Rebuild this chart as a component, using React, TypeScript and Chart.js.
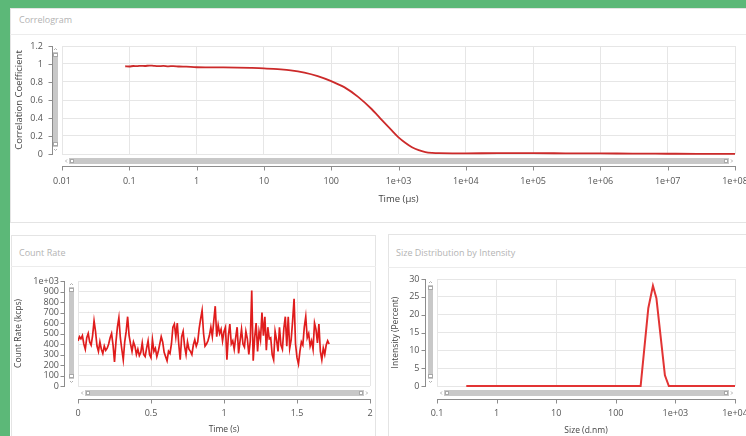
import React, { useEffect, useRef } from 'react';
import { Chart, registerables } from 'chart.js';

Chart.register(...registerables);

const FONT = "'Open Sans', 'Noto Sans', 'DejaVu Sans', sans-serif";

// ---------- Correlogram ----------
const corrTimes = [
  0.087, 0.1, 0.115, 0.13, 0.15, 0.17, 0.2, 0.23, 0.27, 0.32,
  0.38, 0.45, 0.55, 0.7, 1, 1.5, 2.5, 4, 6.3, 10,
  16, 25, 40, 63, 100, 158, 251, 398, 501, 631,
  794, 1000, 1259, 1585, 1995, 2512, 3162, 3981, 6310, 1e4,
  3e4, 1e5, 3e5, 1e6, 3e6, 1e7, 3e7, 1e8,
];
const corrValues = [
  0.975, 0.972, 0.978, 0.976, 0.98, 0.978, 0.983, 0.979, 0.976, 0.979,
  0.974, 0.977, 0.972, 0.97, 0.964, 0.963, 0.962, 0.96, 0.957, 0.952,
  0.942, 0.93, 0.905, 0.866, 0.81, 0.74, 0.635, 0.5, 0.42, 0.34,
  0.262, 0.185, 0.125, 0.075, 0.042, 0.022, 0.013, 0.009, 0.008, 0.008,
  0.009, 0.009, 0.008, 0.007, 0.004, 0.003, 0.002, 0.002,
];
const corrXTicks = [0.01, 0.1, 1, 10, 100, 1e3, 1e4, 1e5, 1e6, 1e7, 1e8];
const corrXLabels = ['0.01', '0.1', '1', '10', '100', '1e+03', '1e+04', '1e+05', '1e+06', '1e+07', '1e+08'];
const corrYTicks = [0, 0.2, 0.4, 0.6, 0.8, 1, 1.2];
const corrYLabels = ['0', '0.2', '0.4', '0.6', '0.8', '1', '1.2'];

// ---------- Count Rate ----------
const countStep = 0.01; // s between samples
const countValues = [
  430, 470, 450, 480, 400, 350, 460, 500, 420, 390,
  480, 620, 520, 380, 330, 420, 350, 310, 380, 340,
  360, 400, 460, 500, 390, 230, 420, 560, 650, 460,
  350, 250, 420, 520, 660, 480, 400, 330, 420, 380,
  300, 350, 290, 320, 410, 300, 280, 360, 430, 300,
  270, 440, 330, 360, 280, 330, 400, 470, 420, 320,
  280, 240, 330, 310, 400, 560, 590, 470, 600, 400,
  250, 470, 520, 380, 300, 420, 350, 330, 300, 390,
  440, 380, 420, 550, 640, 720, 500, 380, 400, 430,
  480, 560, 470, 620, 760, 470, 580, 500, 540, 430,
  520, 560, 250, 480, 590, 400, 430, 350, 460, 560,
  310, 430, 540, 400, 370, 520, 450, 300, 430, 910,
  240, 460, 600, 330, 520, 440, 700, 480, 660, 340,
  560, 450, 460, 300, 250, 520, 440, 330, 560, 390,
  350, 550, 660, 380, 660, 360, 440, 620, 830, 400,
  270, 210, 330, 420, 390, 560, 660, 460, 500, 380,
  430, 350, 600, 540, 410, 590, 330, 250, 360, 300,
  390, 430, 400,
];
const countXTicks = [0, 0.5, 1, 1.5, 2];
const countXLabels = ['0', '0.5', '1', '1.5', '2'];
const countYTicks = [0, 100, 200, 300, 400, 500, 600, 700, 800, 900, 1000];
const countYLabels = ['0', '100', '200', '300', '400', '500', '600', '700', '800', '900', '1e+03'];

// ---------- Size Distribution ----------
const sizes = [0.31, 1, 10, 100, 261, 351, 420, 480, 667, 776, 1000, 10000];
const intensities = [0, 0, 0, 0, 0, 21.8, 28.1, 24.6, 3.0, 0, 0, 0];
const sizeXTicks = [0.1, 1, 10, 100, 1000, 10000];
const sizeXLabels = ['0.1', '1', '10', '100', '1e+03', '1e+04'];
const sizeYTicks = [0, 5, 10, 15, 20, 25, 30];
const sizeYLabels = ['0', '5', '10', '15', '20', '25', '30'];

type AxisOpts = {
  axis: 'x' | 'y';
  type: 'linear' | 'logarithmic';
  min: number;
  max: number;
  values: number[];
  labels: string[];
  title: string;
  titleSize: number;
  titlePad: number;
  pad: number;
  size: number;
};

function makeScale(o: AxisOpts) {
  return {
    type: o.type,
    min: o.min,
    max: o.max,
    afterBuildTicks: (s: any) => {
      s.ticks = o.values.map((v) => ({ value: v }));
    },
    afterFit: (s: any) => {
      if (o.axis === 'x') s.height = o.size;
      else s.width = o.size;
    },
    grid: {
      color: '#e6e6e6',
      lineWidth: 1,
      drawTicks: true,
      tickLength: o.pad,
      tickColor: 'rgba(0,0,0,0)',
    },
    border: { display: false },
    ticks: {
      autoSkip: false,
      maxRotation: 0,
      minRotation: 0,
      padding: 0,
      color: '#555555',
      font: { family: FONT, size: 9 },
      callback: (_v: any, i: number) => o.labels[i],
    },
    title: {
      display: true,
      text: o.title,
      color: '#444444',
      font: { family: FONT, size: o.titleSize },
      padding: o.axis === 'x' ? { top: 0, bottom: o.titlePad } : { top: o.titlePad, bottom: 0 },
    },
  };
}

function decoPlugin(yGap: number, xGap: number) {
  return {
    id: 'deco',
    afterDraw(chart: any) {
      const { ctx, chartArea: a } = chart;
      const xs = chart.scales.x;
      const ys = chart.scales.y;
      ctx.save();
      // axis lines + tick marks
      ctx.strokeStyle = '#8c8c8c';
      ctx.lineWidth = 1;
      ctx.beginPath();
      const ax = Math.round(a.left - yGap) + 0.5;
      ctx.moveTo(ax, Math.round(a.top));
      ctx.lineTo(ax, Math.round(a.bottom) + 1);
      ys.ticks.forEach((_t: any, i: number) => {
        const y = Math.round(ys.getPixelForTick(i)) + 0.5;
        ctx.moveTo(ax - 4, y);
        ctx.lineTo(ax, y);
      });
      const ay = Math.round(a.bottom + xGap) + 0.5;
      ctx.moveTo(Math.round(a.left), ay);
      ctx.lineTo(Math.round(a.right) + 1, ay);
      xs.ticks.forEach((_t: any, i: number) => {
        const x = Math.round(xs.getPixelForTick(i)) + 0.5;
        ctx.moveTo(x, ay);
        ctx.lineTo(x, ay + 4);
      });
      ctx.stroke();

      // vertical scrollbar
      const vx0 = Math.round(a.left - 9.5);
      const vw = 5;
      const vy0 = Math.round(a.top + 6);
      const vy1 = Math.round(a.bottom - 7);
      ctx.fillStyle = '#c8c8c8';
      ctx.fillRect(vx0, vy0, vw, vy1 - vy0);
      ctx.fillStyle = '#ffffff';
      ctx.strokeStyle = '#a8a8a8';
      ctx.fillRect(vx0 + 0.5, vy0 + 1, 4, 4);
      ctx.strokeRect(vx0 + 0.5, vy0 + 1.5, 4, 3);
      ctx.fillRect(vx0 + 0.5, vy1 - 5, 4, 4);
      ctx.strokeRect(vx0 + 0.5, vy1 - 4.5, 4, 3);
      ctx.strokeStyle = '#b0b0b0';
      ctx.beginPath();
      ctx.moveTo(vx0 + 1, vy0 - 2);
      ctx.lineTo(vx0 + 2.5, vy0 - 3.5);
      ctx.lineTo(vx0 + 4, vy0 - 2);
      ctx.moveTo(vx0 + 1, vy1 + 2);
      ctx.lineTo(vx0 + 2.5, vy1 + 3.5);
      ctx.lineTo(vx0 + 4, vy1 + 2);
      ctx.stroke();

      // horizontal scrollbar
      const hy0 = Math.round(a.bottom + 3.5);
      const hh = 6;
      const hx0 = Math.round(a.left + 7);
      const hx1 = Math.round(a.right - 6);
      ctx.fillStyle = '#c8c8c8';
      ctx.fillRect(hx0, hy0, hx1 - hx0, hh);
      ctx.fillStyle = '#ffffff';
      ctx.strokeStyle = '#a8a8a8';
      ctx.fillRect(hx0 + 1, hy0 + 1, 4, 4);
      ctx.strokeRect(hx0 + 1.5, hy0 + 1.5, 3, 3);
      ctx.fillRect(hx1 - 5, hy0 + 1, 4, 4);
      ctx.strokeRect(hx1 - 4.5, hy0 + 1.5, 3, 3);
      ctx.strokeStyle = '#b0b0b0';
      ctx.beginPath();
      ctx.moveTo(hx0 - 2, hy0 + 1.5);
      ctx.lineTo(hx0 - 3.5, hy0 + 3);
      ctx.lineTo(hx0 - 2, hy0 + 4.5);
      ctx.moveTo(hx1 + 2, hy0 + 1.5);
      ctx.lineTo(hx1 + 3.5, hy0 + 3);
      ctx.lineTo(hx1 + 2, hy0 + 4.5);
      ctx.stroke();
      ctx.restore();
    },
  };
}

type PlotProps = {
  left: number;
  top: number;
  width: number;
  height: number;
  build: () => any;
};

function Plot({ left, top, width, height, build }: PlotProps) {
  const ref = useRef<HTMLCanvasElement>(null);
  useEffect(() => {
    if (!ref.current) return;
    const chart = new Chart(ref.current, build());
    return () => chart.destroy();
  }, []);
  return (
    <canvas
      ref={ref}
      width={width}
      height={height}
      style={{ position: 'absolute', left, top, width, height, display: 'block' }}
    />
  );
}

function baseOptions(padding: any, x: any, y: any) {
  return {
    responsive: false,
    animation: false,
    events: [],
    layout: { padding },
    plugins: { legend: { display: false }, tooltip: { enabled: false }, title: { display: false } },
    elements: { point: { radius: 0 } },
    scales: { x, y },
  };
}

const buildCorr = () => ({
  type: 'line',
  data: {
    datasets: [
      {
        data: corrTimes.map((t, i) => ({ x: t, y: corrValues[i] })),
        borderColor: '#cc2a2a',
        borderWidth: 1.8,
        pointRadius: 0,
        cubicInterpolationMode: 'monotone',
        fill: false,
        clip: 2,
      },
    ],
  },
  options: baseOptions(
    { left: 0, top: 10, right: 45, bottom: 0 },
    makeScale({ axis: 'x', type: 'logarithmic', min: 0.01, max: 1e8, values: corrXTicks, labels: corrXLabels, title: 'Time (µs)', titleSize: 9.5, titlePad: 11, pad: 22, size: 62 }),
    makeScale({ axis: 'y', type: 'linear', min: 0, max: 1.2, values: corrYTicks, labels: corrYLabels, title: 'Correlation Coefficient', titleSize: 9.5, titlePad: 4, pad: 19, size: 52 })
  ),
  plugins: [decoPlugin(10, 12)],
});

const buildCount = () => ({
  type: 'line',
  data: {
    datasets: [
      {
        data: countValues.map((v, i) => ({ x: i * countStep, y: v })),
        borderColor: '#e01c1c',
        borderWidth: 1.7,
        pointRadius: 0,
        tension: 0,
        fill: false,
      },
    ],
  },
  options: baseOptions(
    { left: 0, top: 13, right: 10, bottom: 0 },
    makeScale({ axis: 'x', type: 'linear', min: 0, max: 2, values: countXTicks, labels: countXLabels, title: 'Time (s)', titleSize: 8.5, titlePad: 1, pad: 22, size: 50 }),
    makeScale({ axis: 'y', type: 'linear', min: 0, max: 1000, values: countYTicks, labels: countYLabels, title: 'Count Rate (kcps)', titleSize: 8.5, titlePad: 3, pad: 19, size: 68 })
  ),
  plugins: [decoPlugin(14, 13)],
});

const buildSize = () => ({
  type: 'line',
  data: {
    datasets: [
      {
        data: sizes.map((s, i) => ({ x: s, y: intensities[i] })),
        borderColor: '#e23434',
        borderWidth: 2,
        pointRadius: 0,
        tension: 0,
        fill: false,
        clip: 2,
      },
    ],
  },
  options: baseOptions(
    { left: 0, top: 11, right: 41, bottom: 0 },
    makeScale({ axis: 'x', type: 'logarithmic', min: 0.1, max: 10000, values: sizeXTicks, labels: sizeXLabels, title: 'Size (d.nm)', titleSize: 8.5, titlePad: 0.5, pad: 22, size: 50 }),
    makeScale({ axis: 'y', type: 'linear', min: 0, max: 30, values: sizeYTicks, labels: sizeYLabels, title: 'Intensity (Percent)', titleSize: 8.5, titlePad: 2.5, pad: 17.5, size: 49 })
  ),
  plugins: [decoPlugin(12.5, 13)],
});

const titleStyle: React.CSSProperties = {
  position: 'absolute',
  fontFamily: FONT,
  fontSize: 9,
  color: '#b3b3b3',
  lineHeight: '12px',
  whiteSpace: 'nowrap',
};

export default function App() {
  return (
    <div
      style={{
        position: 'fixed',
        left: 0,
        top: 0,
        width: 746,
        height: 436,
        overflow: 'hidden',
        background: '#5cb878',
        fontFamily: FONT,
      }}
    >
      {/* white workspace */}
      <div style={{ position: 'absolute', left: 10, top: 8, width: 760, height: 440, background: '#ffffff' }} />
      {/* top panel */}
      <div style={{ position: 'absolute', left: 10, top: 8, width: 760, height: 215, border: '1px solid #e4e4e4', boxSizing: 'border-box' }} />
      <div style={{ position: 'absolute', left: 10, top: 34, width: 760, height: 1, background: '#ececec' }} />
      <div style={{ ...titleStyle, left: 19, top: 14 }}>Correlogram</div>
      {/* bottom-left panel */}
      <div style={{ position: 'absolute', left: 11, top: 235, width: 365, height: 220, border: '1px solid #e4e4e4', boxSizing: 'border-box' }} />
      <div style={{ position: 'absolute', left: 11, top: 266, width: 365, height: 1, background: '#ececec' }} />
      <div style={{ ...titleStyle, left: 19, top: 247 }}>Count Rate</div>
      {/* bottom-right panel */}
      <div style={{ position: 'absolute', left: 388, top: 234, width: 380, height: 220, border: '1px solid #e4e4e4', boxSizing: 'border-box' }} />
      <div style={{ position: 'absolute', left: 388, top: 267, width: 380, height: 1, background: '#ececec' }} />
      <div style={{ ...titleStyle, left: 396, top: 247 }}>Size Distribution by Intensity</div>

      <Plot left={10} top={36} width={770} height={180} build={buildCorr} />
      <Plot left={10} top={268} width={370} height={168} build={buildCount} />
      <Plot left={388} top={268} width={388} height={168} build={buildSize} />
    </div>
  );
}
